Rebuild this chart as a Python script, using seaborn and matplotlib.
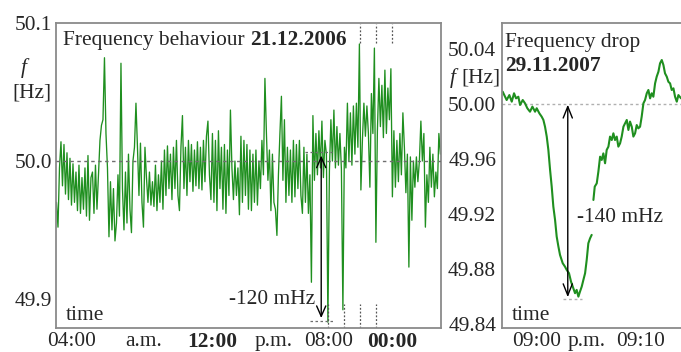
import numpy as np
import pandas as pd
import matplotlib
matplotlib.use("Agg")
import matplotlib.pyplot as plt
import seaborn as sns

# ---------------- data: left panel (deviation from 50 Hz, mHz) ----------------
dev_mhz = [
    -30, -48, -5, 14, -18, 12, -24, 6, -28, 2,
    -32, -2, -30, -8, -36, -3, -38, -12, -35, -5,
    -40, 4, -43, -12, -8, -38, -3, -35, -10, 15,
    26, 30, 75, 20, -5, -55, -15, -50, -20, -58,
    -45, -10, -40, 71, -20, -50, -8, -45, 5, -35,
    -52, 0, 10, 42, 10, -25, 13, -30, -48, 10,
    -12, -30, -8, -32, -15, -33, -3, -36, -10, -30,
    0, -35, 8, -25, 11, -20, 5, -28, 10, -20,
    15, -25, -36, 10, 33, -20, 10, -25, 15, -15,
    12, -22, 8, -18, 14, -20, 10, -21, 15, -15,
    18, 29, -10, -28, 20, -30, 15, -36, 22, -20,
    10, -35, 12, -38, 8, -25, 37, -5, -28, 0,
    -25, -5, -39, 18, -30, 15, -25, 12, -35, 8,
    -36, 5, -30, 8, -32, 0, -20, 15, -10, 60,
    20, -14, 8, -36, 5, -30, -35, -54, -10, 20,
    47, -14, 30, -30, 10, -25, 8, -30, 15, -26,
    12, -20, 15, -25, -38, 10, -30, 5, -38, -10,
    -88, 33, -14, 20, -10, 22, -5, 29, -12, 15,
    5, -117, -7, 30, 0, 37, -5, 25, -3, 20,
    -6, -108, 10, -5, 42, 0, 35, -3, 40, 5,
    42, 10, 85, -21, 15, 42, 18, 40, 20, -19,
    49, 20, 82, -59, 22, 60, 25, 55, 17, 66,
    20, 53, 30, 67, -26, 22, -19, 15, -15, 20,
    -10, 35, 10, -23, 5, -77, 3, -43, 0, -19,
    3, -15, 0, 29, 0, 20, -48, -10, -30, 10,
    -19, 5, -26, -8, -20, 20, 5,
]
t_first_hour, t_last_hour = 3.16, 27.0   # sampling span of the recording (hours)

left_label_pos = [4.1, 8.55, 12.85, 16.67, 20.07, 23.98]
left_labels = ["04:00", "a.m.", "12:00", "p.m.", "08:00", "00:00"]
left_bold = ["12:00", "00:00"]
hour_ticks = list(range(4, 27))
left_yticks = [49.9, 50.0, 50.1]
left_ylabels = ["49.9", "50.0", "50.1"]
marker_hours_bottom = [20, 21, 22, 23]
marker_hours_top = [22, 23, 24]

# ---------------- data: right panel (minutes after 09:00, mHz) ----------------
drop1_min = [-4.61, -4.36, -4.19, -3.91, -3.66, -3.42, -3.21, -2.97, -2.79, -2.51,
             -2.27, -2.03, -1.75, -1.50, -1.22, -1.05, -0.77, -0.53, -0.35, -0.18,
             0.00, 0.17, 0.35, 0.52, 0.69, 0.87, 1.04, 1.22, 1.39, 1.67,
             1.91, 2.09, 2.33, 2.54, 2.72, 2.96, 3.13, 3.31, 3.48, 3.66,
             3.83, 4.01, 4.18, 4.35, 4.53, 4.70]
drop1_mhz = [9.0, 5.3, 2.9, 6.5, 1.7, 7.8, 4.1, 5.3, -0.7, 2.9,
             0.5, -3.1, -5.6, -1.9, -5.6, -3.1, -6.8, -9.2, -11.6, -16.5,
             -23.7, -33.4, -48.0, -60.1, -74.6, -84.3, -96.4, -103.7, -109.8, -115.8,
             -118.3, -120.7, -123.1, -129.2, -132.8, -137.6, -135.2, -140.1, -136.4, -132.8,
             -128.0, -123.1, -113.4, -101.3, -97.7, -95.2]
drop2_min = [4.88, 5.02, 5.23, 5.40, 5.58, 5.75, 5.92, 6.10, 6.27, 6.45,
             6.62, 6.80, 6.97, 7.14, 7.32, 7.49, 7.67, 7.84, 8.02, 8.19,
             8.37, 8.54, 8.71, 8.89, 9.06, 9.24, 9.41, 9.58, 9.76, 9.93,
             10.11, 10.28, 10.46, 10.63, 10.81, 10.98, 11.15, 11.33, 11.50, 11.68,
             11.85, 12.03, 12.20, 12.37, 12.55, 12.72, 12.90, 13.07, 13.25, 13.42,
             13.60, 13.77, 14.05]
drop2_mhz = [-69.8, -60.1, -57.7, -49.2, -38.3, -40.7, -35.9, -43.1, -33.4, -31.0,
             -23.7, -26.2, -21.3, -26.2, -23.7, -31.0, -28.6, -23.7, -16.5, -14.1,
             -11.6, -18.9, -12.8, -16.5, -23.7, -21.3, -15.3, -17.7, -16.5, -9.2,
             0.5, 2.9, 7.8, 10.2, 4.1, 7.8, 5.3, 15.0, 19.9, 23.5,
             29.6, 32.0, 28.4, 22.3, 19.9, 16.2, 15.0, 10.2, 11.4, 5.3,
             1.7, 6.5, 4.1]
right_label_pos = [-1.05, 4.18, 9.76]
right_labels = ["09:00", "p.m.", "09:10"]
minute_ticks = [0, 5, 10]
right_major = [49.84, 49.88, 49.92, 49.96, 50.00, 50.04]
right_minor = [49.86, 49.90, 49.94, 49.98, 50.02]

# ---------------- style ----------------
sns.set_style("white")
plt.rcParams["font.family"] = ["Liberation Serif", "DejaVu Serif"]
plt.rcParams["font.size"] = 15
FS = 15.4
GREEN = "#1f8f1f"
SPINE = "#8a8a8a"

W, H = 681, 352
fig = plt.figure(figsize=(W / 100, H / 100), dpi=100)

def fx(px):
    return px / W

def fy(py):
    return 1 - py / H

axL = fig.add_axes([fx(56), fy(327.7), fx(440.7) - fx(56), fy(23.3) - fy(327.7)])
axR = fig.add_axes([fx(501.7), fy(327.7), fx(683) - fx(501.7), fy(23.3) - fy(327.7)])

# ---- left panel ----
left_df = pd.DataFrame({
    "hour": np.linspace(t_first_hour, t_last_hour, len(dev_mhz)),
    "f": 50.0 + np.array(dev_mhz) / 1000.0,
})
sns.lineplot(data=left_df, x="hour", y="f", ax=axL, color=GREEN, lw=0.95,
             estimator=None, sort=False)
axL.set_xlim(3.13, 27.02)
axL.set_ylim(49.879, 50.0995)
axL.axhline(50.0, color="#6e6e6e", lw=1.0, ls=(0, (2.5, 2.5)), zorder=3)

# short reference dashes and marker lines
axL.hlines(50.0065, 18.6, 20.27, color="#6e6e6e", lw=0.9, ls=(0, (2, 2)), zorder=3)
axL.hlines(49.8836, 18.9, 20.46, color="#6e6e6e", lw=0.9, ls=(0, (2, 2)), zorder=3)
axL.vlines(marker_hours_bottom, 49.879, 49.896, color="#555555", lw=0.9, ls=(0, (1.5, 1.5)))
axL.vlines(marker_hours_top, 50.086, 50.0995, color="#555555", lw=0.9, ls=(0, (1.5, 1.5)))
axL.annotate("", xy=(19.6, 49.886), xytext=(19.6, 50.004),
             arrowprops=dict(arrowstyle="<->,head_length=0.5,head_width=0.22",
                             color="black", lw=1.0, shrinkA=0, shrinkB=0), zorder=5)

axL.set_yticks(left_yticks)
axL.set_yticklabels(left_ylabels)
axL.set_xticks(hour_ticks, minor=True)
axL.set_xticks(left_label_pos)
axL.set_xticklabels(left_labels)
for lab in axL.get_xticklabels():
    if lab.get_text() in left_bold:
        lab.set_fontweight("bold")
axL.tick_params(axis="x", which="major", length=0, pad=3, labelsize=FS)
axL.tick_params(axis="x", which="minor", length=4, width=0.8, color=SPINE, direction="in")
axL.tick_params(axis="y", which="major", length=4, width=0.8, color=SPINE,
                direction="in", pad=3, labelsize=FS)
axL.set_xlabel("")
axL.set_ylabel("")

# ---- right panel ----
d1 = pd.DataFrame({"m": drop1_min, "f": 50.0 + np.array(drop1_mhz) / 1000.0, "seg": 0})
d2 = pd.DataFrame({"m": drop2_min, "f": 50.0 + np.array(drop2_mhz) / 1000.0, "seg": 1})
right_df = pd.concat([d1, d2], ignore_index=True)
sns.lineplot(data=right_df, x="m", y="f", units="seg", estimator=None, sort=False,
             ax=axR, color=GREEN, lw=1.5)
axR.set_xlim(-4.71, 14.25)
axR.set_ylim(49.8373, 50.0587)
axR.axhline(50.0, color="#b0b0b0", lw=1.0, ls=(0, (2, 2)), zorder=1)
axR.hlines(49.858, 1.7, 3.7, color="#b0b0b0", lw=1.0, ls=(0, (2, 2)))
axR.annotate("", xy=(2.2, 49.8595), xytext=(2.2, 49.9995),
             arrowprops=dict(arrowstyle="<->,head_length=0.55,head_width=0.22",
                             color="black", lw=1.0, shrinkA=0, shrinkB=0), zorder=5)

axR.set_yticks(right_major)
axR.set_yticklabels([f"{v:.2f}" for v in right_major])
axR.set_yticks(right_minor, minor=True)
axR.set_xticks(minute_ticks, minor=True)
axR.set_xticks(right_label_pos)
axR.set_xticklabels(right_labels)
axR.tick_params(axis="x", which="major", length=0, pad=3, labelsize=FS)
axR.tick_params(axis="x", which="minor", length=4, width=0.8, color=SPINE, direction="in")
axR.tick_params(axis="y", which="both", length=4, width=0.8, color=SPINE,
                direction="in", pad=4, labelsize=FS)
axR.set_xlabel("")
axR.set_ylabel("")

for ax in (axL, axR):
    for sp in ax.spines.values():
        sp.set_color(SPINE)
        sp.set_linewidth(1.3)

# ---- texts ----
fig.text(fx(63.3), fy(45), "Frequency behaviour", fontsize=FS, va="baseline", ha="left")
fig.text(fx(250.5), fy(45), "21.12.2006", fontsize=FS, fontweight="bold",
         va="baseline", ha="left")
fig.text(fx(24), fy(68), "f", fontsize=FS, fontstyle="italic", ha="center", va="center")
fig.text(fx(32), fy(93), "[Hz]", fontsize=FS, ha="center", va="center")
fig.text(fx(85), fy(316), "time", fontsize=FS, ha="center", va="center")
fig.text(fx(272), fy(300), "-120 mHz", fontsize=FS, ha="center", va="center")

fig.text(fx(505), fy(46.7), "Frequency drop", fontsize=FS, va="baseline", ha="left")
fig.text(fx(505), fy(71), "29.11.2007", fontsize=FS, fontweight="bold",
         va="baseline", ha="left")
fig.text(fx(453), fy(78), "f", fontsize=FS, fontstyle="italic", ha="center", va="center")
fig.text(fx(481), fy(78), "[Hz]", fontsize=FS, ha="center", va="center")
fig.text(fx(531), fy(316), "time", fontsize=FS, ha="center", va="center")
fig.text(fx(620), fy(218), "-140 mHz", fontsize=FS, ha="center", va="center")

fig.savefig("out.png", dpi=100)
